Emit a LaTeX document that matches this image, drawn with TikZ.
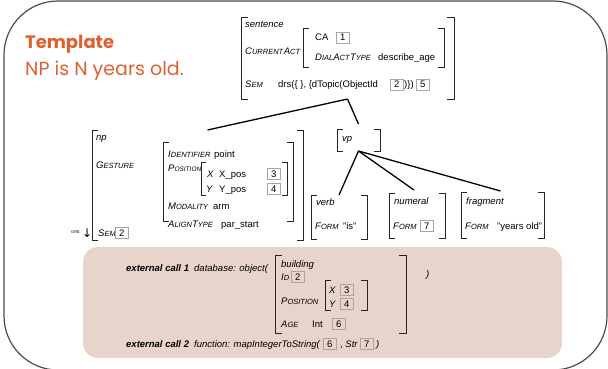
\documentclass[tikz,border=0pt]{standalone}
\usepackage{fontspec}
\setmainfont{Liberation Sans}
\newfontfamily\titlefont{Poppins}
\newfontfamily\symfont{DejaVu Sans}
\usepackage{xcolor}
\usepackage{tikz}
\usetikzlibrary{fit}

\definecolor{tplorange}{RGB}{222,98,48}
\definecolor{callbg}{RGB}{231,212,202}
\definecolor{tagline}{RGB}{170,165,160}

\newcommand{\avmfont}{\fontsize{9.5}{11}\selectfont}
\newcommand{\feat}[3][7.5]{\textit{#2{\fontsize{#1}{8}\selectfont\MakeUppercase{#3}}}}
\newcommand{\avmbrackets}[2]{%
  \draw[brk] ([xshift=#2]#1.north west) -- (#1.north west) -- (#1.south west) -- ([xshift=#2]#1.south west);
  \draw[brk] ([xshift=-#2]#1.north east) -- (#1.north east) -- (#1.south east) -- ([xshift=-#2]#1.south east);}

\tikzset{
  title/.style={anchor=base west, inner sep=0pt, text=tplorange, font={\titlefont\fontsize{19}{22}\selectfont}},
  lbl/.style={anchor=base west, inner sep=0pt, font=\avmfont},
  tag/.style={anchor=base west, draw=tagline, line width=0.6pt, inner sep=0pt, minimum width=13pt, minimum height=11pt, font=\avmfont},
  avm/.style={inner sep=0pt, outer sep=0pt},
  brk/.style={line width=0.9pt, black!85},
  branch/.style={line width=1.3pt},
  frame/.style={draw=black!70, line width=1.2pt, rounded corners=54pt},
}

\begin{document}
\begin{tikzpicture}[x=1pt, y=-1pt]
        \useasboundingbox (0,0) rectangle (608,369);
        % Frame and call box
        \draw[frame] (4,1) rectangle (607,370);
        \fill[callbg, rounded corners=15pt] (83,247) rectangle (562,358);

        % Template
        \node[title, font={\titlefont\bfseries\fontsize{18}{22}\selectfont}] (tplname) at (25,49) {Template};
        \node[title] (tplstring) at (25,76) {NP is N years old.};

        % sentence
        \node[avm, fit={(241,17) (454,99)}] (sentence) {};
        \node[lbl] (sentlab) at (245,28) {\textit{sentence}};
        \node[lbl] (curact) at (245,55) {\feat{C}{urrent}\feat{A}{ct}};
        \node[avm, fit={(303,28) (444,67)}] (act) {};
        \node[lbl] (ca) at (315,41) {CA};
        \node[tag] (tagone) at (336,41) {1};
        \node[lbl] (dat) at (315,60) {\feat{D}{ial}\feat{A}{ct}\feat{T}{ype}};
        \node[lbl] (datval) at (378,60) {describe\_age};
        \node[lbl] (sentsem) at (245,88) {\feat{S}{em}};
        \node[lbl] (drs) at (278,88) {drs(\{ \}, \{dTopic(ObjectId};
        \node[tag] (tagtwo) at (390,88) {2};
        \node[lbl] (drsend) at (404,88) {)\})};
        \node[tag] (tagfive) at (416,88) {5};

        % np
        \node[avm, fit={(92,130) (303,240)}] (np) {};
        \node[lbl] (nplab) at (96,140) {\textit{np}};
        \node[lbl] (gesture) at (96,168) {\feat{G}{esture}};
        \node[avm, fit={(163,142) (293,221)}] (gest) {};
        \node[lbl] (ident) at (168,157) {\feat{I}{dentifier}};
        \node[lbl] (identval) at (214,157) {point};
        \node[lbl] (gpos) at (168,171) {\feat[6.5]{P}{osition}};
        \node[avm, fit={(201,162) (287,195)}] (gposavm) {};
        \node[lbl] (gx) at (207,177) {\textit{X}};
        \node[lbl] (gxval) at (219,177) {X\_pos};
        \node[tag] (tagthree) at (267,177) {3};
        \node[lbl] (gy) at (206,192) {\textit{Y}};
        \node[lbl] (gyval) at (219,192) {Y\_pos};
        \node[tag] (tagfour) at (267,192) {4};
        \node[lbl] (modal) at (168,209) {\feat{M}{odality}};
        \node[lbl] (modalval) at (213,209) {arm};
        \node[lbl] (align) at (168,227) {\feat{A}{lign}\feat{T}{ype}};
        \node[lbl] (alignval) at (221,227) {par\_start};
        \node[lbl] (npsem) at (98,236) {\feat{S}{em}};
        \node[tag] (npsemtag) at (115,236) {2};
        \node[lbl, font=\fontsize{4}{4}\selectfont] (gre) at (71,233) {GRE};
        \node[lbl, font={\symfont\fontsize{12}{12}\selectfont}] (grearrow) at (82,237) {↓};

        % vp and daughters
        \node[avm, fit={(337,129) (380,151)}] (vp) {};
        \node[lbl] (vplab) at (342,141) {\textit{vp}};
        \node[avm, fit={(311,195) (367,239)}] (verb) {};
        \node[lbl] (verblab) at (316,205) {\textit{verb}};
        \node[lbl] (verbform) at (315,229) {\feat{F}{orm}};
        \node[lbl] (verbval) at (343,229) {"is"};
        \node[avm, fit={(389,193) (445,238)}] (numeral) {};
        \node[lbl] (numlab) at (394,204) {\textit{numeral}};
        \node[lbl] (numform) at (393,229) {\feat{F}{orm}};
        \node[tag] (tagseven) at (420,229) {7};
        \node[avm, fit={(461,192) (544,238)}] (fragment) {};
        \node[lbl] (fraglab) at (466,204) {\textit{fragment}};
        \node[lbl] (fragform) at (465,229) {\feat{F}{orm}};
        \node[lbl] (fragval) at (497,229) {"years old"};

        % external calls
        \node[lbl] (callone) at (126,271) {\textit{\textbf{external call 1}}};
        \node[lbl] (callonefn) at (194,271) {\textit{database: object(}};
        \node[avm, fit={(275,255) (406,333)}] (building) {};
        \node[lbl] (buildlab) at (281,267) {\textit{building}};
        \node[lbl] (bid) at (281,280) {\feat{I}{d}};
        \node[tag] (bidtag) at (291,280) {2};
        \node[lbl] (bpos) at (281,304) {\feat{P}{osition}};
        \node[avm, fit={(325,280) (367,310)}] (bposavm) {};
        \node[lbl] (bx) at (329,293) {\textit{X}};
        \node[tag] (bxtag) at (340,293) {3};
        \node[lbl] (by) at (329,307) {\textit{Y}};
        \node[tag] (bytag) at (340,307) {4};
        \node[lbl] (bage) at (281,327) {\feat{A}{ge}};
        \node[lbl] (bageval) at (312,327) {Int};
        \node[tag] (bagetag) at (332,327) {6};
        \node[lbl] (callonend) at (426,277) {\textit{)}};
        \node[lbl] (calltwo) at (126,347) {\textit{\textbf{external call 2}}};
        \node[lbl] (calltwofn) at (194,347) {\textit{function: mapIntegerToString(}};
        \node[tag] (calltwosix) at (323,347) {6};
        \node[lbl] (calltwostr) at (340,347) {, \textit{Str}};
        \node[tag] (calltwoseven) at (360,347) {7};
        \node[lbl] (calltwoend) at (376,347) {\textit{)}};

        % Brackets
        \avmbrackets{sentence}{7pt}
        \avmbrackets{act}{6pt}
        \avmbrackets{np}{6pt}
        \avmbrackets{gest}{6pt}
        \avmbrackets{gposavm}{5pt}
        \avmbrackets{vp}{6pt}
        \avmbrackets{verb}{6pt}
        \avmbrackets{numeral}{6pt}
        \avmbrackets{fragment}{6pt}
        \avmbrackets{building}{7pt}
        \avmbrackets{bposavm}{6pt}

        % Branches
        \draw[branch] (sentence.south) -- ([xshift=10pt]np.north);
        \draw[branch] (sentence.south) -- ([yshift=5pt]vp.north);
        \draw[branch] (vp.south) -- (verb.north);
        \draw[branch] (vp.south) -- ([xshift=-3pt,yshift=3pt]numeral.north);
        \draw[branch] (vp.south) -- ([xshift=-2pt,yshift=1pt]fragment.north);
    \end{tikzpicture}
\end{document}
